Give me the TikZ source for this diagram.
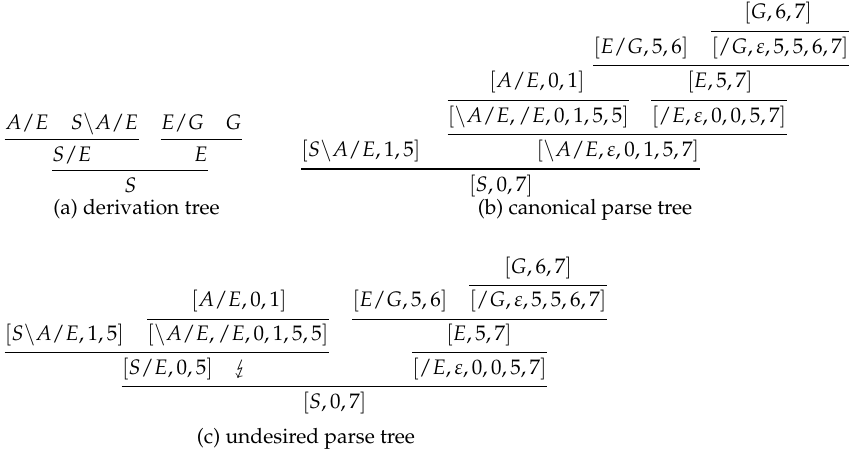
\documentclass[tikz,border=0pt]{standalone}
\usepackage[T1]{fontenc}
\usepackage{mathpazo}
\usepackage{stmaryrd}
\begin{document}
\begin{tikzpicture}[x=0.476pt, y=-0.476pt]
        \tikzstyle{item} = [inner xsep=0pt, inner ysep=3.2pt, text height=7.5pt, text depth=2.5pt, anchor=base]
        \tikzstyle{deriv} = [item, inner ysep=2pt]
        \tikzstyle{caption} = [inner sep=0pt, anchor=base]
        \tikzstyle{bar} = [line width=0.55pt]
        \useasboundingbox (0,0) rectangle (850,455);
        % (a) derivation tree
        \node (a1) [deriv] at (27, 130) {$A/E$};
        \node (a2) [deriv] at (104.5, 130) {$S\backslash A/E$};
        \node (a3) [deriv] at (182.5, 130) {$E/G$};
        \node (a4) [deriv] at (233.5, 130) {$G$};
        \node (a5) [deriv] at (72, 161) {$S/E$};
        \node (a6) [deriv] at (201, 161) {$E$};
        \node (a7) [deriv] at (130.5, 192) {$S$};
        \node (capa) [caption] at (136.5, 214) {(a) derivation tree};
        \draw[bar] (a1.south west) to (a2.south east);
        \draw[bar] (a3.south west) to (a4.south east);
        \draw[bar] (a5.south west) to (a6.south east);
        % (b) canonical parse tree
        \node (b1) [item] at (778, 19) {$[G,6,7]$};
        \node (b2) [item] at (641, 53.4) {$[E/G,5,6]$};
        \node (b3) [item] at (780, 53.4) {$[/G,\varepsilon,5,5,6,7]$};
        \node (b4) [item] at (537, 87.8) {$[A/E,0,1]$};
        \node (b5) [item] at (720, 87.8) {$[E,5,7]$};
        \node (b6) [item] at (538.5, 122.2) {$[\backslash A/E,/E,0,1,5,5]$};
        \node (b7) [item] at (719, 122.2) {$[/E,\varepsilon,0,0,5,7]$};
        \node (b8) [item] at (361, 156.6) {$[S\backslash A/E,1,5]$};
        \node (b9) [item] at (618, 156.6) {$[\backslash A/E,\varepsilon,0,1,5,7]$};
        \node (b10) [item] at (501, 191) {$[S,0,7]$};
        \node (capb) [caption] at (585, 214) {(b) canonical parse tree};
        \draw[bar] (b3.west |- b1.south) to (b3.east |- b1.south);
        \draw[bar] (b2.south west) to (b3.south east);
        \draw[bar] (b6.west |- b4.south) to (b6.east |- b4.south);
        \draw[bar] (b7.west |- b5.south) to (b7.east |- b5.south);
        \draw[bar] (b6.south west) to (b7.south east);
        \draw[bar] (b8.south west) to (b9.south east);
        % (c) undesired parse tree
        \node (c1) [item] at (538, 273) {$[G,6,7]$};
        \node (c2) [item] at (239, 306.75) {$[A/E,0,1]$};
        \node (c3) [item] at (400, 306.75) {$[E/G,5,6]$};
        \node (c4) [item] at (538, 306.75) {$[/G,\varepsilon,5,5,6,7]$};
        \node (c5) [item] at (64.5, 340.5) {$[S\backslash A/E,1,5]$};
        \node (c6) [item] at (238, 340.5) {$[\backslash A/E,/E,0,1,5,5]$};
        \node (c7) [item] at (479, 340.5) {$[E,5,7]$};
        \node (c8) [item] at (167.5, 374.25) {$[S/E,0,5]$};
        \node (c9) [item] at (241, 374.25) {$\lightning$};
        \node (c10) [item] at (479.5, 374.25) {$[/E,\varepsilon,0,0,5,7]$};
        \node (c11) [item] at (334.5, 408) {$[S,0,7]$};
        \node (capc) [caption] at (306, 443) {(c) undesired parse tree};
        \draw[bar] (c4.west |- c1.south) to (c4.east |- c1.south);
        \draw[bar] (c3.south west) to (c4.south east);
        \draw[bar] (c6.west |- c2.south) to (c6.east |- c2.south);
        \draw[bar] (c5.south west) to (c6.south east);
        \draw[bar] (c10.west |- c7.south) to (c10.east |- c7.south);
        \draw[bar] (c8.south west) to (c10.south east);
    \end{tikzpicture}
\end{document}
